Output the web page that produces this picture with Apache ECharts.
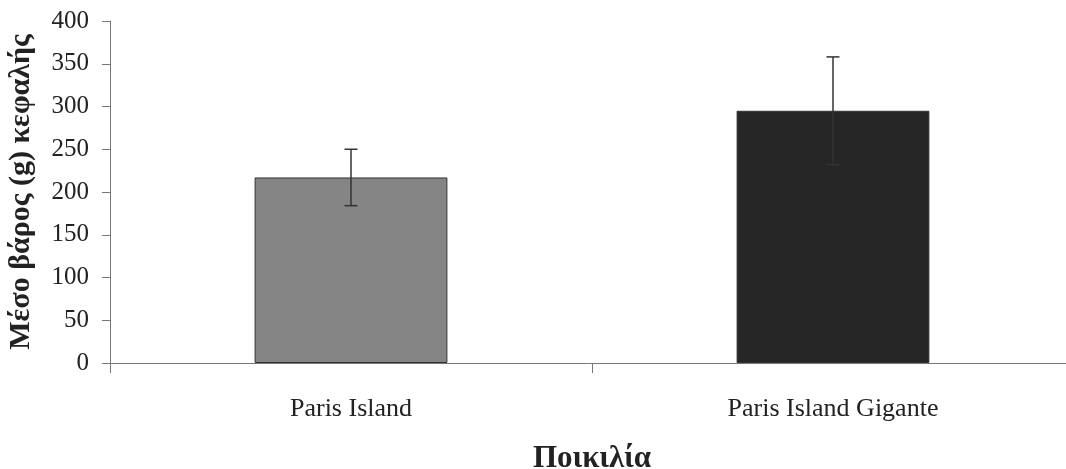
<!DOCTYPE html>
<html><head><meta charset="utf-8">
<script src="https://cdn.jsdelivr.net/npm/echarts@6/dist/echarts.min.js"></script>
<style>html,body{margin:0;padding:0;background:#fff}#c{width:1066px;height:469px}</style>
</head><body><div id="c"></div>
<script>
const categories = ['Paris Island', 'Paris Island Gigante'];
const means = [217, 295];
const errors = [33, 63];
const barColors = ['#858585', '#262626'];
const yTicks = [0, 50, 100, 150, 200, 250, 300, 350, 400];

const chart = echarts.init(document.getElementById('c'));
const errData = categories.map((c, i) => [i, means[i] - errors[i], means[i] + errors[i]]);
chart.setOption({
  animation: false,
  grid: { left: 110, width: 964, top: 21, height: 342, containLabel: false, outerBoundsMode: 'none' },
  xAxis: {
    type: 'category', data: categories,
    name: 'Ποικιλία', nameLocation: 'middle', nameGap: 80,
    nameTextStyle: { fontFamily: 'Liberation Serif', fontWeight: 'bold', fontSize: 31, color: '#222' },
    axisLine: { lineStyle: { color: '#777', width: 1 } },
    axisTick: { show: true, length: 10, lineStyle: { color: '#777' } },
    axisLabel: { fontFamily: 'Liberation Serif', fontSize: 26, color: '#222', margin: 33 }
  },
  yAxis: {
    type: 'value', min: 0, max: 400, interval: 50,
    name: 'Μέσο βάρος (g) κεφαλής', nameLocation: 'middle', nameGap: 74, nameRotate: 90,
    nameTextStyle: { fontFamily: 'Liberation Serif', fontWeight: 'bold', fontSize: 30, color: '#222' },
    axisLine: { show: true, lineStyle: { color: '#777', width: 1 } },
    axisTick: { show: true, length: 8, lineStyle: { color: '#777' } },
    splitLine: { show: false },
    axisLabel: { fontFamily: 'Liberation Serif', fontSize: 25, color: '#222', margin: 21,
      formatter: v => yTicks.includes(v) ? String(v) : '' }
  },
  series: [
    {
      type: 'bar', barWidth: '40%',
      data: means.map((v, i) => ({ value: v, itemStyle: { color: barColors[i], borderColor: '#333', borderWidth: 1 } }))
    },
    {
      type: 'custom', data: errData, z: 10,
      renderItem: (params, api) => {
        const x = api.value(0);
        const lo = api.coord([x, api.value(1)]);
        const hi = api.coord([x, api.value(2)]);
        const cap = 6.5;
        const style = { stroke: '#333', lineWidth: 1.5 };
        return { type: 'group', children: [
          { type: 'line', shape: { x1: hi[0], y1: hi[1], x2: lo[0], y2: lo[1] }, style },
          { type: 'line', shape: { x1: hi[0] - cap, y1: hi[1], x2: hi[0] + cap, y2: hi[1] }, style },
          { type: 'line', shape: { x1: lo[0] - cap, y1: lo[1], x2: lo[0] + cap, y2: lo[1] }, style }
        ]};
      }
    }
  ]
});
</script></body></html>
